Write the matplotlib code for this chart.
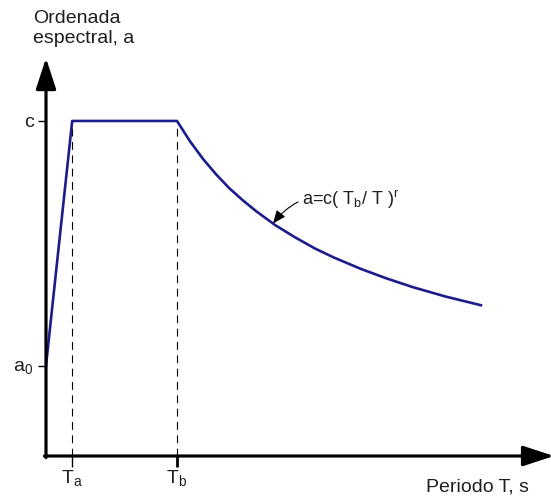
"""Schematic design spectrum: ordinate a vs period T with a=c(Tb/T)^r decay."""

import matplotlib

matplotlib.use("Agg")
import matplotlib.pyplot as plt

# spectrum parameters (diagram units)
a0 = 0.27
c = 1.0
Ta = 0.2
Tb = 1.0

# curve: rise, plateau, then the decaying branch
period = [0.0, 0.2, 1.0, 1.1, 1.2, 1.3, 1.4, 1.5, 1.6, 1.75, 1.9, 2.05,
          2.2, 2.4, 2.6, 2.8, 3.05, 3.32]
ordinate = [0.27, 1.0, 1.0, 0.939, 0.886, 0.840, 0.799, 0.764, 0.732, 0.689,
            0.653, 0.620, 0.592, 0.559, 0.530, 0.504, 0.476, 0.450]

x_ticks = [Ta, Tb]
x_labels = [r"T$_{\mathregular{a}}$", r"T$_{\mathregular{b}}$"]
y_ticks = [a0, c]
y_labels = [r"a$_{\mathregular{0}}$", "c"]

plt.rcParams["font.family"] = ["Liberation Sans", "DejaVu Sans"]
plt.rcParams["mathtext.fontset"] = "custom"
plt.rcParams["mathtext.rm"] = "Liberation Sans"

TEXT = "#1e1e1e"
CURVE = "#1c1c8a"

fig = plt.figure(figsize=(5.51, 4.97), dpi=100)
ax = fig.add_axes([46 / 551, 41 / 497, 1 - 46 / 551, 394 / 497])
ax.set_xlim(0, 3.855)
ax.set_ylim(0, 1.176)
for spine in ax.spines.values():
    spine.set_visible(False)

# axes with arrowheads
arrow = dict(arrowstyle="-|>,head_length=1.9,head_width=0.62", lw=2.3,
             color="black", shrinkA=0, shrinkB=0)
ax.annotate("", xy=(0, 1.01), xytext=(0, -0.004), xycoords="axes fraction",
            arrowprops=arrow, annotation_clip=False)
ax.annotate("", xy=(1.006, 0), xytext=(-0.003, 0), xycoords="axes fraction",
            arrowprops=arrow, annotation_clip=False)

# dashed guides at Ta and Tb
for t in x_ticks:
    ax.plot([t, t], [0, c], color="black", lw=0.8, linestyle=(0, (7, 5)))

ax.plot(period, ordinate, color=CURVE, lw=1.9, solid_joinstyle="round")

ax.set_xticks(x_ticks, x_labels)
ax.set_yticks(y_ticks, y_labels)
ax.tick_params(axis="x", length=8, width=1, pad=1, labelsize=14, colors="black",
               labelcolor=TEXT)
ax.tick_params(axis="y", length=6, width=1, pad=3, labelsize=14, colors="black",
               labelcolor=TEXT)
ax.xaxis.get_major_ticks()[1].tick1line.set_markeredgewidth(2)

ax.annotate(r"a=c( T$_{\mathregular{b}}$/ T )$^{\mathregular{r}}$",
            xy=(1.733, 0.694), xytext=(1.955, 0.749), fontsize=13,
            color=TEXT, va="baseline", ha="left",
            arrowprops=dict(arrowstyle="-|>,head_length=0.6,head_width=0.25",
                            lw=0.8, color="black",
                            connectionstyle="arc3,rad=0.35",
                            shrinkA=1, shrinkB=0))

fig.text(33 / 551, 1 - 10 / 497, "Ordenada\nespectral, a", fontsize=14,
         color=TEXT, ha="left", va="top", linespacing=1.2)
fig.text(426 / 551, 1 - 487 / 497, "Periodo T, s", fontsize=14, color=TEXT,
         ha="left", va="center")

fig.savefig("out.png", dpi=100)
